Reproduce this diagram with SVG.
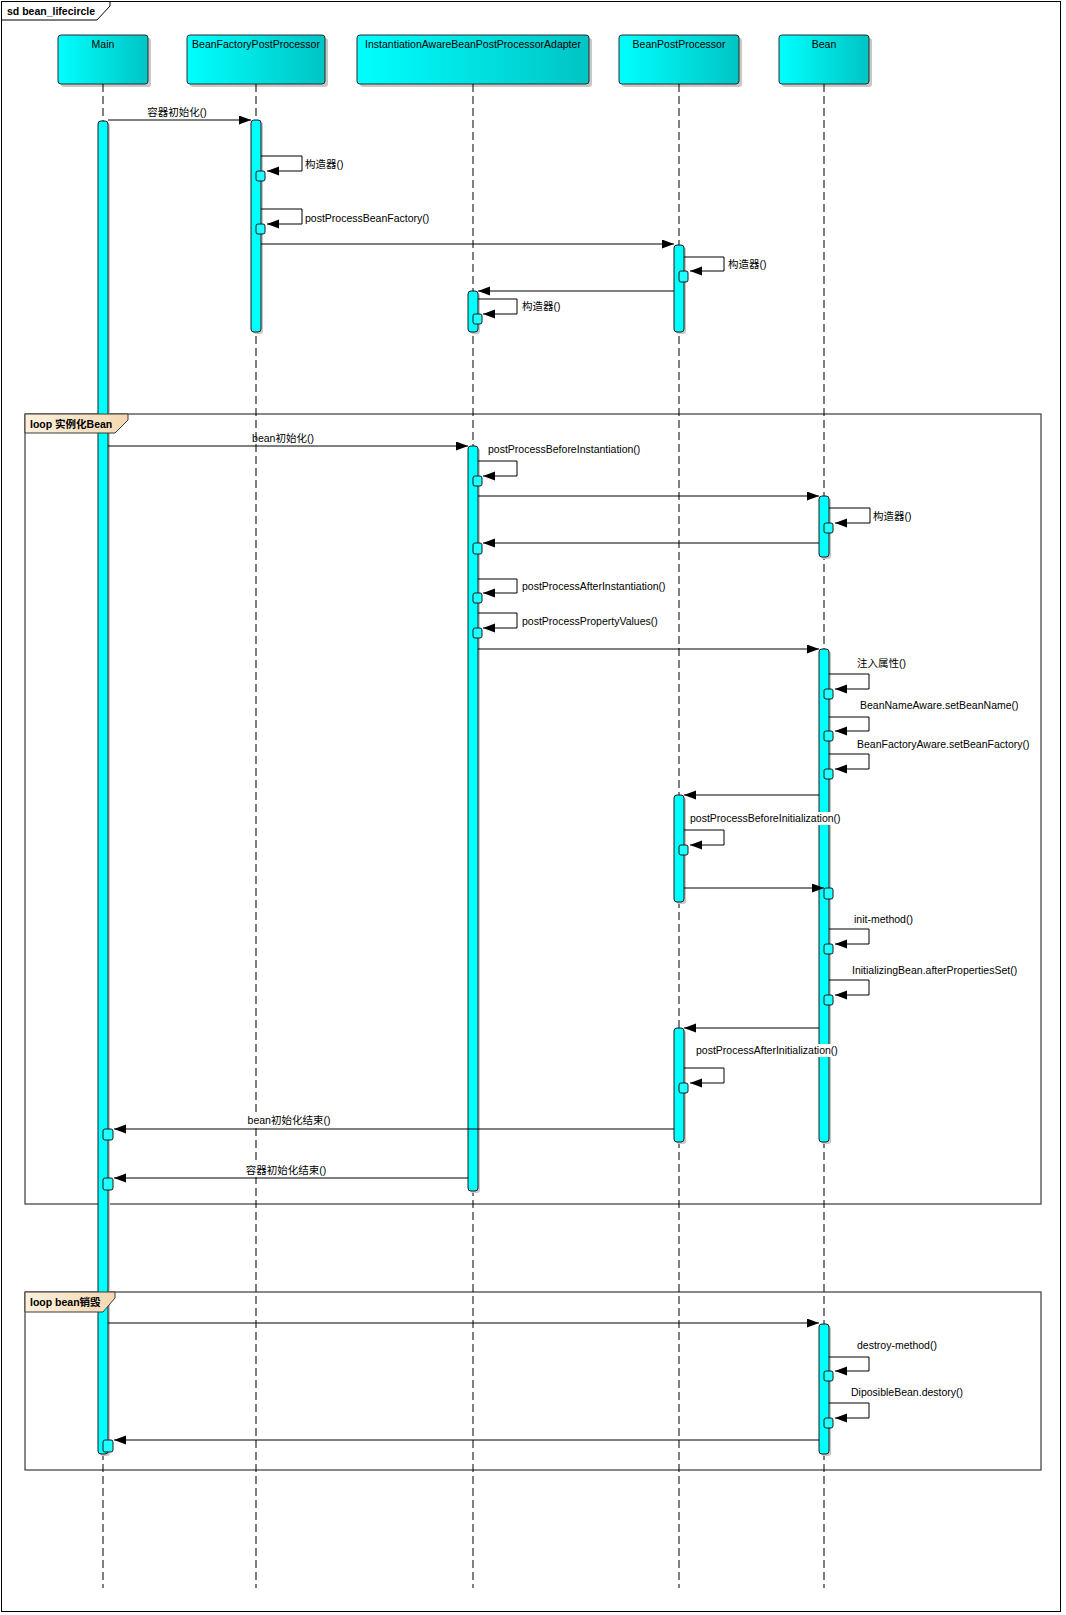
<svg xmlns="http://www.w3.org/2000/svg" width="1066" height="1615" viewBox="0 0 1066 1615">
<style>
text{font-family:"Liberation Sans","Noto Sans CJK SC",sans-serif;font-size:10.5px;fill:#000}
.b{font-weight:bold}
.head{fill:url(#gHead);stroke:#2a2a2a;stroke-width:1}
.shadow{fill:#c8c8c8}
.life{stroke:#000;stroke-width:1;stroke-dasharray:8,4;fill:none}
.act{fill:#00ffff;stroke:#1a1a1a;stroke-width:1}
.nest{fill:#22ffff;stroke:#1a1a1a;stroke-width:1}
.msg{stroke:#000;stroke-width:1;fill:none;marker-end:url(#arr)}
.frame{fill:none;stroke:#3a3a3a;stroke-width:1.2}
.tag{fill:url(#gTag);stroke:#3a3a3a;stroke-width:1}
.bg{fill:#fff}
</style>
<defs>
<linearGradient id="gHead" x1="0" y1="0" x2="1" y2="0"><stop offset="0" stop-color="#00ffff"/><stop offset="1" stop-color="#00c4c4"/></linearGradient>
<linearGradient id="gTag" x1="0" y1="0" x2="1" y2="0"><stop offset="0" stop-color="#fdf0de"/><stop offset="1" stop-color="#f4d8b2"/></linearGradient>
<marker id="arr" markerUnits="userSpaceOnUse" markerWidth="14" markerHeight="10" refX="12" refY="4.5" orient="auto"><path d="M0,0 L12,4.5 L0,9 z" fill="#000"/></marker>
</defs>
<rect width="1066" height="1615" fill="#fff"/>
<g id="frame">
<rect x="1.5" y="1.5" width="1059" height="1610" fill="none" stroke="#000" stroke-width="1"/>
<path d="M1.5,1.5 H110 V6 L97,20 H1.5 Z" fill="#fff" stroke="#000" stroke-width="1"/>
<text class="b" x="7" y="15">sd bean_lifecircle</text>
</g>
<g id="loop1">
<rect class="frame" x="25" y="414" width="1016" height="790"/>
</g>
<g id="loop2">
<rect class="frame" x="25" y="1292" width="1016" height="178"/>
</g>
<g id="Main">
<rect class="shadow" x="61" y="38" width="90" height="49" rx="3"/>
<rect class="head" x="58" y="35" width="90" height="49" rx="3"/>
<text x="103" y="48" text-anchor="middle">Main</text>
<line class="life" x1="103" y1="84" x2="103" y2="1588"/>
<rect class="shadow" x="100" y="123" width="10" height="1333" rx="3"/>
<rect class="act" x="98" y="121" width="10" height="1333" rx="3"/>
</g>
<g id="BeanFactoryPostProcessor">
<rect class="shadow" x="190" y="38" width="138" height="49" rx="3"/>
<rect class="head" x="187" y="35" width="138" height="49" rx="3"/>
<text x="256" y="48" text-anchor="middle">BeanFactoryPostProcessor</text>
<line class="life" x1="256" y1="84" x2="256" y2="1588"/>
<rect class="shadow" x="253" y="122" width="10" height="212" rx="3"/>
<rect class="act" x="251" y="120" width="10" height="212" rx="3"/>
</g>
<g id="InstantiationAwareBeanPostProcessorAdapter">
<rect class="shadow" x="360" y="38" width="232" height="49" rx="3"/>
<rect class="head" x="357" y="35" width="232" height="49" rx="3"/>
<text x="473" y="48" text-anchor="middle">InstantiationAwareBeanPostProcessorAdapter</text>
<line class="life" x1="473" y1="84" x2="473" y2="1588"/>
<rect class="shadow" x="470" y="293" width="10" height="41" rx="3"/>
<rect class="act" x="468" y="291" width="10" height="41" rx="3"/>
<rect class="shadow" x="470" y="448" width="10" height="745" rx="3"/>
<rect class="act" x="468" y="446" width="10" height="745" rx="3"/>
</g>
<g id="BeanPostProcessor">
<rect class="shadow" x="622" y="38" width="120" height="49" rx="3"/>
<rect class="head" x="619" y="35" width="120" height="49" rx="3"/>
<text x="679" y="48" text-anchor="middle">BeanPostProcessor</text>
<line class="life" x1="679" y1="84" x2="679" y2="1588"/>
<rect class="shadow" x="676" y="247" width="10" height="87" rx="3"/>
<rect class="act" x="674" y="245" width="10" height="87" rx="3"/>
<rect class="shadow" x="676" y="797" width="10" height="107" rx="3"/>
<rect class="act" x="674" y="795" width="10" height="107" rx="3"/>
<rect class="shadow" x="676" y="1030" width="10" height="114" rx="3"/>
<rect class="act" x="674" y="1028" width="10" height="114" rx="3"/>
</g>
<g id="Bean">
<rect class="shadow" x="782" y="38" width="90" height="49" rx="3"/>
<rect class="head" x="779" y="35" width="90" height="49" rx="3"/>
<text x="824" y="48" text-anchor="middle">Bean</text>
<line class="life" x1="824" y1="84" x2="824" y2="1588"/>
<rect class="shadow" x="821" y="498" width="10" height="61" rx="3"/>
<rect class="act" x="819" y="496" width="10" height="61" rx="3"/>
<rect class="shadow" x="821" y="651" width="10" height="493" rx="3"/>
<rect class="act" x="819" y="649" width="10" height="493" rx="3"/>
<rect class="shadow" x="821" y="1326" width="10" height="130" rx="3"/>
<rect class="act" x="819" y="1324" width="10" height="130" rx="3"/>
</g>
<g id="loop1-tag">
<path class="tag" d="M25,414 H128 V420 L115,433 H25 Z"/>
<text class="b" x="30" y="428">loop 实例化Bean</text>
</g>
<g id="loop2-tag">
<path class="tag" d="M25,1292 H115 V1298 L103,1312 H25 Z"/>
<text class="b" x="30" y="1306">loop bean销毁</text>
</g>
<g id="connectors">
<line class="msg" x1="108" y1="120" x2="251" y2="120"/>
<path class="msg" d="M261,156 H302 V171 H267"/>
<path class="msg" d="M261,209 H302 V224 H267"/>
<line class="msg" x1="261" y1="244" x2="674" y2="244"/>
<path class="msg" d="M684,257 H724 V271 H690"/>
<line class="msg" x1="674" y1="291" x2="478" y2="291"/>
<path class="msg" d="M478,299 H517 V314 H483"/>
<line class="msg" x1="108" y1="446" x2="468" y2="446"/>
<path class="msg" d="M478,461 H517 V476 H483"/>
<line class="msg" x1="478" y1="496" x2="819" y2="496"/>
<path class="msg" d="M829,508 H870 V523 H835"/>
<line class="msg" x1="819" y1="543" x2="483" y2="543"/>
<path class="msg" d="M478,579 H517 V593 H483"/>
<path class="msg" d="M478,613 H517 V628 H483"/>
<line class="msg" x1="478" y1="649" x2="819" y2="649"/>
<path class="msg" d="M829,674 H869 V689 H835"/>
<path class="msg" d="M829,717 H869 V731 H835"/>
<path class="msg" d="M829,754 H869 V769 H835"/>
<line class="msg" x1="819" y1="795" x2="684" y2="795"/>
<path class="msg" d="M684,830 H724 V845 H690"/>
<line class="msg" x1="684" y1="888" x2="824" y2="888"/>
<path class="msg" d="M829,929 H869 V944 H835"/>
<path class="msg" d="M829,980 H869 V995 H835"/>
<line class="msg" x1="819" y1="1028" x2="684" y2="1028"/>
<path class="msg" d="M684,1068 H724 V1083 H690"/>
<line class="msg" x1="674" y1="1129" x2="114" y2="1129"/>
<line class="msg" x1="468" y1="1178" x2="114" y2="1178"/>
<line class="msg" x1="108" y1="1323" x2="819" y2="1323"/>
<path class="msg" d="M829,1357 H869 V1371 H835"/>
<path class="msg" d="M829,1403 H869 V1418 H835"/>
<line class="msg" x1="819" y1="1440" x2="114" y2="1440"/>
</g>
<g id="nested">
<rect class="nest" x="256" y="171" width="9" height="10" rx="2"/>
<rect class="nest" x="256" y="224" width="9" height="10" rx="2"/>
<rect class="nest" x="679" y="271" width="9" height="11" rx="2"/>
<rect class="nest" x="473" y="314" width="9" height="10" rx="2"/>
<rect class="nest" x="473" y="476" width="9" height="10" rx="2"/>
<rect class="nest" x="824" y="523" width="9" height="10" rx="2"/>
<rect class="nest" x="473" y="543" width="9" height="11" rx="2"/>
<rect class="nest" x="473" y="593" width="9" height="10" rx="2"/>
<rect class="nest" x="473" y="628" width="9" height="10" rx="2"/>
<rect class="nest" x="824" y="689" width="9" height="10" rx="2"/>
<rect class="nest" x="824" y="731" width="9" height="10" rx="2"/>
<rect class="nest" x="824" y="769" width="9" height="10" rx="2"/>
<rect class="nest" x="679" y="845" width="9" height="10" rx="2"/>
<rect class="nest" x="824" y="888" width="9" height="11" rx="2"/>
<rect class="nest" x="824" y="944" width="9" height="10" rx="2"/>
<rect class="nest" x="824" y="995" width="9" height="10" rx="2"/>
<rect class="nest" x="679" y="1083" width="9" height="10" rx="2"/>
<rect class="nest" x="103" y="1129" width="10" height="11" rx="2"/>
<rect class="nest" x="103" y="1178" width="10" height="12" rx="2"/>
<rect class="nest" x="824" y="1371" width="9" height="10" rx="2"/>
<rect class="nest" x="824" y="1418" width="9" height="10" rx="2"/>
<rect class="nest" x="103" y="1440" width="10" height="12" rx="2"/>
</g>
<g id="labels">
<text x="177" y="116" text-anchor="middle">容器初始化()</text>
<text x="305" y="168">构造器()</text>
<text x="305" y="222">postProcessBeanFactory()</text>
<text x="728" y="268">构造器()</text>
<text x="522" y="310">构造器()</text>
<text x="283" y="442" text-anchor="middle">bean初始化()</text>
<text x="488" y="453">postProcessBeforeInstantiation()</text>
<text x="873" y="520">构造器()</text>
<text x="522" y="590">postProcessAfterInstantiation()</text>
<text x="522" y="625">postProcessPropertyValues()</text>
<text x="857" y="667">注入属性()</text>
<text x="860" y="709">BeanNameAware.setBeanName()</text>
<text x="857" y="748">BeanFactoryAware.setBeanFactory()</text>
<rect class="bg" x="689" y="812" width="152" height="13"/>
<text x="690" y="822">postProcessBeforeInitialization()</text>
<text x="854" y="923">init-method()</text>
<text x="852" y="974">InitializingBean.afterPropertiesSet()</text>
<rect class="bg" x="695" y="1044" width="143" height="13"/>
<text x="696" y="1054">postProcessAfterInitialization()</text>
<rect class="bg" x="249" y="1114" width="81" height="13"/>
<text x="289" y="1124" text-anchor="middle">bean初始化结束()</text>
<rect class="bg" x="247" y="1164" width="79" height="13"/>
<text x="286" y="1174" text-anchor="middle">容器初始化结束()</text>
<text x="857" y="1349">destroy-method()</text>
<text x="851" y="1396">DiposibleBean.destory()</text>
</g>
</svg>
